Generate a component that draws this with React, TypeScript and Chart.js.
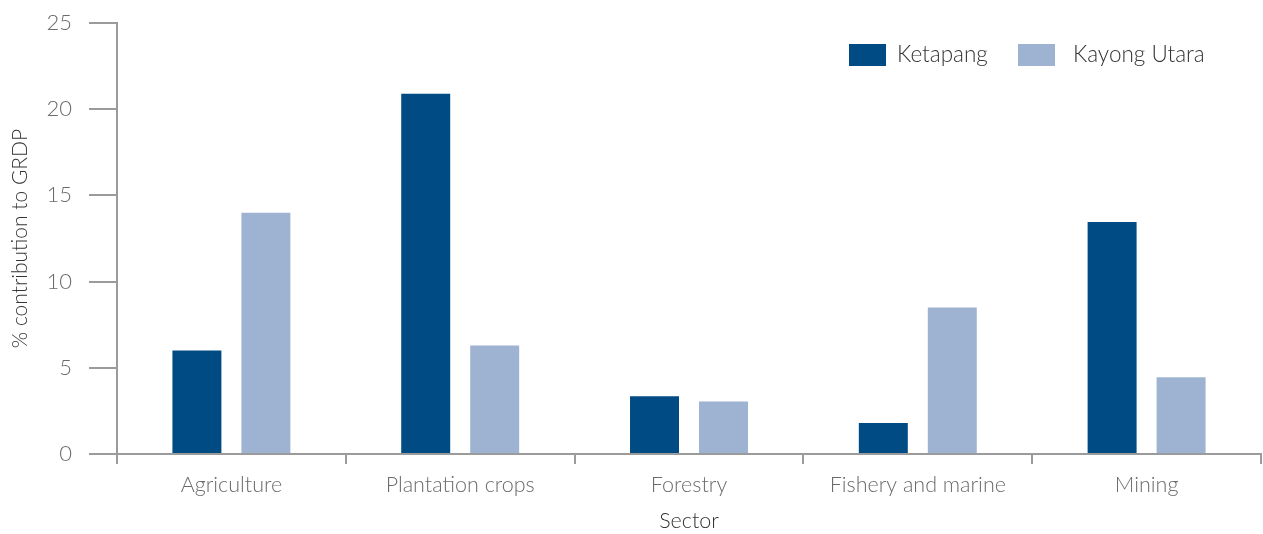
import React, { useEffect, useRef } from "react";
import { Chart, registerables } from "chart.js";

Chart.register(...registerables);

const categories = ["Agriculture", "Plantation crops", "Forestry", "Fishery and marine", "Mining"];
const ketapang = [6.0, 20.9, 3.35, 1.8, 13.45];
const kayongUtara = [14.0, 6.3, 3.05, 8.5, 4.45];
const seriesLabels = ["Ketapang", "Kayong Utara"];
const seriesColors = ["#004B84", "#9EB3D2"];
const yTicks = [0, 5, 10, 15, 20, 25];

const FONT = "Lato, 'Open Sans', sans-serif";
const AXIS = "#9b9b9b";
const TEXT = "#6b6b6b";

const legendPlugin = {
  id: "customLegend",
  afterDraw(chart: any) {
    const ctx = chart.ctx;
    ctx.save();
    ctx.font = `300 22.5px ${FONT}`;
    ctx.textBaseline = "middle";
    ctx.textAlign = "left";
    const y = 55;
    const starts = [849, 1018];
    const textOffsets = [48, 55];
    chart.data.datasets.forEach((ds: any, i: number) => {
      ctx.fillStyle = ds.backgroundColor;
      ctx.fillRect(starts[i], y - 11, 37, 22);
      ctx.fillStyle = "#333";
      ctx.fillText(ds.label, starts[i] + textOffsets[i], y);
    });
    ctx.restore();
  },
};

export default function App() {
  const ref = useRef<HTMLCanvasElement>(null);
  useEffect(() => {
    document.body.style.margin = "0";
    const chart = new Chart(ref.current!, {
      type: "bar",
      data: {
        labels: categories,
        datasets: [
          { label: seriesLabels[0], data: ketapang, backgroundColor: seriesColors[0] },
          { label: seriesLabels[1], data: kayongUtara, backgroundColor: seriesColors[1] },
        ],
      },
      plugins: [legendPlugin],
      options: {
        animation: false,
        responsive: false,
        maintainAspectRatio: false,
        layout: { padding: { top: 23, right: 2, left: 0, bottom: 0 } },
        categoryPercentage: 0.603,
        barPercentage: 0.71,
        plugins: { legend: { display: false }, tooltip: { enabled: false } },
        scales: {
          x: {
            grid: { display: true, drawOnChartArea: false, drawTicks: true, tickLength: 10, color: AXIS, lineWidth: 2, offset: true },
            border: { display: true, color: AXIS, width: 2 },
            ticks: { color: TEXT, font: { family: FONT, size: 21.5, weight: "300" }, padding: 8, maxRotation: 0 },
            title: { display: true, text: "Sector", color: "#333", font: { family: FONT, size: 21.5, weight: "300" }, padding: { top: 6, bottom: 0 } },
            afterFit: (s: any) => { s.height = 80; },
          },
          y: {
            min: 0,
            max: 25,
            afterBuildTicks: (s: any) => { s.ticks = yTicks.map((v) => ({ value: v })); },
            grid: { display: true, drawOnChartArea: false, drawTicks: true, tickLength: 28, color: AXIS, lineWidth: 2 },
            border: { display: true, color: AXIS, width: 2 },
            ticks: { color: TEXT, font: { family: FONT, size: 22, weight: "300" }, padding: 17 },
            title: { display: true, text: "% contribution to GRDP", color: "#333", font: { family: FONT, size: 21, weight: "300" }, padding: { top: 8, bottom: 0 } },
            afterFit: (s: any) => { s.width = 117; s.paddingTop = 0; },
          },
        },
      } as any,
    });
    return () => chart.destroy();
  }, []);
  return (
    <div style={{ width: 1263, height: 534 }}>
      <canvas ref={ref} width={1263} height={534} />
    </div>
  );
}
